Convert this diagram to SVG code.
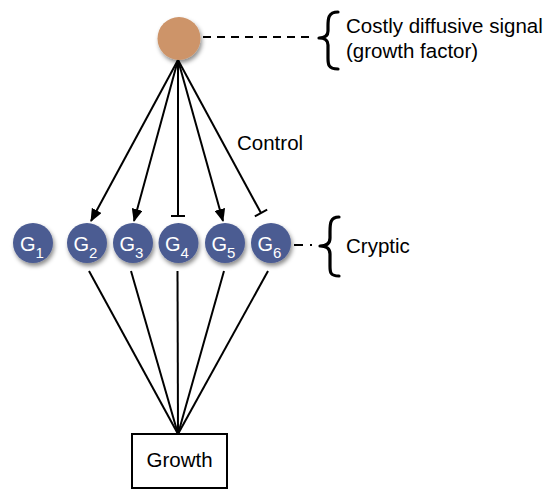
<svg xmlns="http://www.w3.org/2000/svg" width="548" height="489" viewBox="0 0 548 489">
<defs>
<style>
text{font-family:"Liberation Sans",Arial,Helvetica,sans-serif;fill:#000}
.lbl{font-size:20.5px}
.g{fill:#4b5b92;filter:url(#sh)}
.gt{fill:#fff;font-size:20px}
.sub{font-size:15px}
.edge{stroke:#000;stroke-width:2;fill:none}
.brace{stroke:#000;stroke-width:3.2;fill:none;stroke-linecap:round;stroke-linejoin:round}
</style>
<filter id="sh" x="-30%" y="-30%" width="170%" height="170%">
<feDropShadow dx="1.5" dy="3" stdDeviation="2" flood-color="#000" flood-opacity="0.45"/>
</filter>
<marker id="arr" markerUnits="userSpaceOnUse" viewBox="0 0 13 11" refX="12" refY="5.5" markerWidth="13" markerHeight="11" orient="auto">
<path d="M0,0 L13,5.5 L0,11 z" fill="#000"/>
</marker>
<marker id="tee" markerUnits="userSpaceOnUse" viewBox="0 0 4 16" refX="2" refY="8" markerWidth="4" markerHeight="16" orient="auto">
<path d="M2,1 V15" stroke="#000" stroke-width="2"/>
</marker>
</defs>
<rect width="548" height="489" fill="#fff"/>

<g id="connectors">
<line class="edge" x1="178" y1="60" x2="91" y2="221" marker-end="url(#arr)"/>
<line class="edge" x1="178" y1="60" x2="134" y2="221" marker-end="url(#arr)"/>
<line class="edge" x1="178" y1="60" x2="178" y2="216" marker-end="url(#tee)"/>
<line class="edge" x1="178" y1="60" x2="223" y2="221" marker-end="url(#arr)"/>
<line class="edge" x1="178" y1="60" x2="261" y2="213" marker-end="url(#tee)"/>
<line class="edge" x1="89" y1="271" x2="178" y2="434"/>
<line class="edge" x1="131" y1="271" x2="178" y2="434"/>
<line class="edge" x1="177.5" y1="271" x2="178" y2="434"/>
<line class="edge" x1="224" y1="271" x2="178" y2="434"/>
<line class="edge" x1="268" y1="271" x2="178" y2="434"/>
<line x1="203" y1="37" x2="314" y2="37" stroke="#000" stroke-width="2" stroke-dasharray="8,6"/>
<line x1="294" y1="245" x2="303" y2="245" stroke="#000" stroke-width="2"/>
<line x1="310" y1="245" x2="312" y2="245" stroke="#000" stroke-width="2"/>
</g>

<g id="signal">
<circle cx="179" cy="38.5" r="21.5" fill="#cd9469" filter="url(#sh)"/>
</g>
<g id="signal-label">
<path class="brace" d="M338,12 C328,12 328,19 328,26 L328,31 C328,35 326,38 319,38 C326,38 328,41 328,45 L328,58 C328,64 328,69 338,69"/>
<text class="lbl" x="346" y="33">Costly diffusive signal</text>
<text class="lbl" x="346" y="58">(growth factor)</text>
</g>

<g id="control-label">
<text class="lbl" x="237" y="150">Control</text>
</g>

<g id="G1"><circle class="g" cx="33" cy="243" r="20"/><text class="gt" x="20" y="251">G<tspan class="sub" dy="7">1</tspan></text></g>
<g id="G2"><circle class="g" cx="87" cy="243" r="20"/><text class="gt" x="73.5" y="251">G<tspan class="sub" dy="7">2</tspan></text></g>
<g id="G3"><circle class="g" cx="133" cy="243" r="20"/><text class="gt" x="119.5" y="251">G<tspan class="sub" dy="7">3</tspan></text></g>
<g id="G4"><circle class="g" cx="178.5" cy="243" r="20"/><text class="gt" x="165" y="251">G<tspan class="sub" dy="7">4</tspan></text></g>
<g id="G5"><circle class="g" cx="225" cy="243" r="20"/><text class="gt" x="211.5" y="251">G<tspan class="sub" dy="7">5</tspan></text></g>
<g id="G6"><circle class="g" cx="271" cy="243" r="20"/><text class="gt" x="257.5" y="251">G<tspan class="sub" dy="7">6</tspan></text></g>

<g id="cryptic-label">
<path class="brace" d="M339,217 C330,217 330,224 330,232 L330,238 C330,242 328,246 320,246 C328,246 330,250 330,254 L330,266 C330,272 330,276 339,276"/>
<text class="lbl" x="346" y="253">Cryptic</text>
</g>

<g id="growth">
<rect x="132" y="434" width="95" height="54" fill="#fff" stroke="#000" stroke-width="2"/>
<text class="lbl" x="179.5" y="467" text-anchor="middle">Growth</text>
</g>
</svg>
